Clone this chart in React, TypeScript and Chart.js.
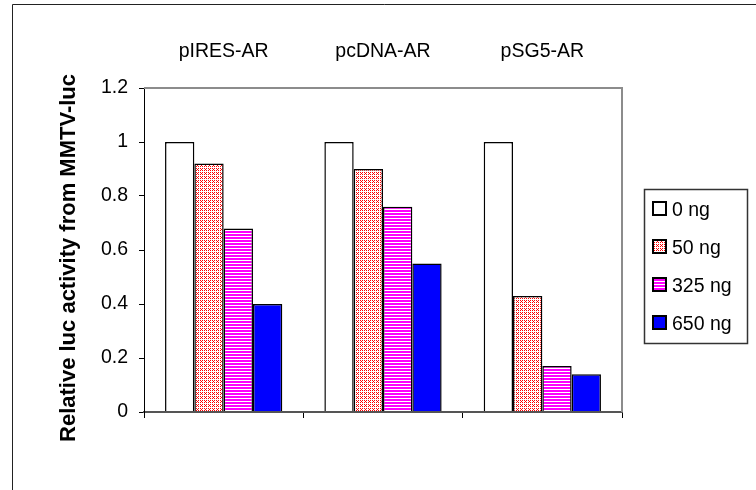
import { useEffect, useRef } from "react";
import { Chart, registerables } from "chart.js";

Chart.register(...registerables);

// Reporter constructs and the amount of co-transfected plasmid
const categories = ["pIRES-AR", "pcDNA-AR", "pSG5-AR"];
const seriesLabels = ["0 ng", "50 ng", "325 ng", "650 ng"];

// Relative luciferase activity per construct
const dose0 = [1, 1, 1];
const dose50 = [0.92, 0.9, 0.43];
const dose325 = [0.68, 0.76, 0.17];
const dose650 = [0.4, 0.55, 0.14];

const yTicks = [0, 0.2, 0.4, 0.6, 0.8, 1, 1.2];
const yTitle = "Relative luc activity from MMTV-luc";

const FONT = "Arial, 'Liberation Sans', sans-serif";

function makePattern(w: number, h: number, paint: (x: CanvasRenderingContext2D) => void) {
  const c = document.createElement("canvas");
  c.width = w;
  c.height = h;
  const x = c.getContext("2d")!;
  x.fillStyle = "#ffffff";
  x.fillRect(0, 0, w, h);
  paint(x);
  return x.createPattern(c, "repeat")!;
}

// Frame, plot border, rotated axis title and boxed legend
const decorations = {
  id: "decorations",
  afterDraw(chart: any) {
    const { ctx, chartArea } = chart;
    const { left, top, right, bottom } = chartArea;
    ctx.save();

    // outer frame (top and left edges)
    ctx.strokeStyle = "#222";
    ctx.lineWidth = 1;
    ctx.beginPath();
    ctx.moveTo(12.5, chart.height);
    ctx.lineTo(12.5, 4.5);
    ctx.lineTo(chart.width, 4.5);
    ctx.stroke();

    // plot area border (top and right edges)
    ctx.strokeStyle = "#8c8c8c";
    ctx.lineWidth = 2;
    ctx.beginPath();
    ctx.moveTo(left, top);
    ctx.lineTo(right, top);
    ctx.lineTo(right, bottom);
    ctx.stroke();

    // y-axis title
    ctx.save();
    ctx.translate(75, (top + bottom) / 2 + 8);
    ctx.rotate(-Math.PI / 2);
    ctx.font = `bold 22px ${FONT}`;
    ctx.fillStyle = "#000";
    ctx.textAlign = "center";
    ctx.textBaseline = "alphabetic";
    ctx.fillText(yTitle, 0, 0);
    ctx.restore();

    // legend
    const lx = right + 22;
    const ly = 189;
    const lw = 103;
    const rowH = 38;
    const datasets = chart.data.datasets;
    const lh = datasets.length * rowH + 2;
    ctx.strokeStyle = "#333";
    ctx.lineWidth = 1.5;
    ctx.strokeRect(lx + 0.5, ly + 0.5, lw, lh);
    ctx.font = `19.5px ${FONT}`;
    ctx.textAlign = "left";
    ctx.textBaseline = "alphabetic";
    datasets.forEach((ds: any, i: number) => {
      const cy = ly + 20 + i * rowH;
      ctx.fillStyle = ds.backgroundColor;
      ctx.fillRect(lx + 9, cy - 7, 13, 13);
      ctx.strokeStyle = "#000";
      ctx.lineWidth = 2;
      ctx.strokeRect(lx + 9, cy - 7, 13, 13);
      ctx.fillStyle = "#000";
      ctx.fillText(ds.label, lx + 28, cy + 7);
    });

    ctx.restore();
  },
};

export default function App() {
  const ref = useRef<HTMLCanvasElement>(null);

  useEffect(() => {
    const canvas = ref.current!;
    // fine red dot fill
    const dotted = makePattern(4, 4, (x) => {
      x.fillStyle = "#ff0000";
      [[0, 0], [2, 0], [1, 1], [0, 2], [2, 2]].forEach(([px, py]) => x.fillRect(px, py, 1, 1));
    });
    // horizontal magenta stripes
    const striped = makePattern(1, 3, (x) => {
      x.fillStyle = "#ff00ff";
      x.fillRect(0, 0, 1, 2);
    });
    const fills: any[] = ["#ffffff", dotted, striped, "#0000ff"];
    const values = [dose0, dose50, dose325, dose650];

    const chart = new Chart(canvas, {
      type: "bar",
      data: {
        labels: categories,
        datasets: seriesLabels.map((label, i) => ({
          label,
          data: values[i],
          backgroundColor: fills[i],
          borderColor: "#000",
          borderWidth: 1.5,
          borderSkipped: "start",
          inflateAmount: 0,
          categoryPercentage: 0.736,
          barPercentage: 1,
        })),
      },
      options: {
        animation: false,
        responsive: false,
        maintainAspectRatio: false,
        devicePixelRatio: 1,
        layout: { padding: { left: 0, top: 0, right: 134, bottom: 68 } },
        plugins: {
          legend: { display: false },
          tooltip: { enabled: false },
          title: { display: false },
        },
        scales: {
          x: {
            position: "bottom",
            offset: true,
            grid: {
              offset: true,
              drawOnChartArea: false,
              drawTicks: true,
              tickLength: 6,
              color: "#000",
              lineWidth: 1,
            },
            border: { display: true, color: "#555", width: 2, z: 1 },
            ticks: { display: false },
            afterFit(s: any) {
              s.height = 10;
            },
          },
          xTop: {
            type: "category",
            position: "top",
            labels: categories,
            offset: true,
            grid: { display: false, drawTicks: false },
            border: { display: false },
            ticks: {
              font: { family: FONT, size: 19.5 },
              color: "#000",
              padding: 25,
              maxRotation: 0,
              autoSkip: false,
            },
            afterFit(s: any) {
              s.height = 88;
            },
          },
          y: {
            min: 0,
            max: 1.2,
            afterBuildTicks(s: any) {
              s.ticks = yTicks.map((v) => ({ value: v }));
            },
            grid: { drawOnChartArea: false, tickLength: 5, color: "#000", lineWidth: 1 },
            border: { display: true, color: "#000", width: 1, z: 1 },
            ticks: {
              font: { family: FONT, size: 19.5 },
              color: "#000",
              padding: 11,
              callback: (v: any) => String(v),
            },
            afterFit(s: any) {
              s.width = 144;
            },
          },
        },
      } as any,
      plugins: [decorations],
    });

    return () => chart.destroy();
  }, []);

  return (
    <div style={{ position: "absolute", left: 0, top: 0, width: 756, height: 490 }}>
      <canvas ref={ref} width={756} height={490} style={{ width: 756, height: 490 }} />
    </div>
  );
}
